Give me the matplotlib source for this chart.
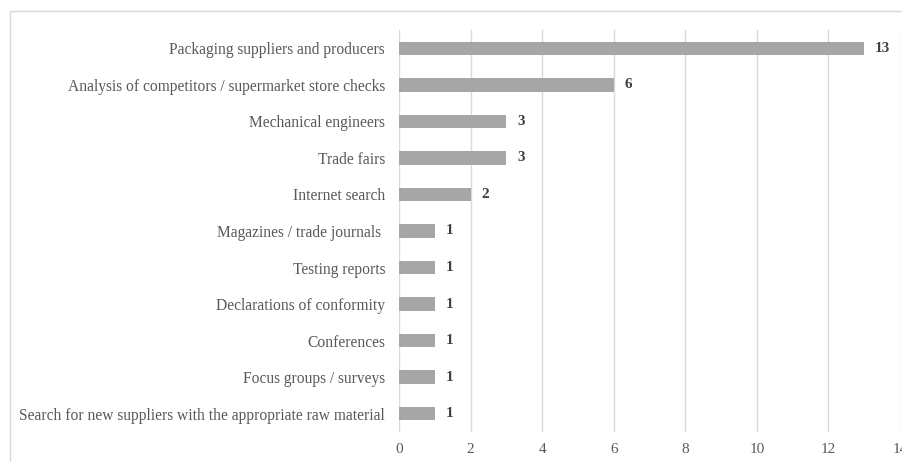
import matplotlib
matplotlib.use("Agg")
from matplotlib import pyplot as plt
from matplotlib.patches import Rectangle

categories = ["Packaging suppliers and producers",
              "Analysis of competitors / supermarket store checks",
              "Mechanical engineers",
              "Trade fairs",
              "Internet search",
              "Magazines / trade journals ",
              "Testing reports",
              "Declarations of conformity",
              "Conferences",
              "Focus groups / surveys",
              "Search for new suppliers with the appropriate raw material"]
counts = [13, 6, 3, 3, 2, 1, 1, 1, 1, 1, 1]
xticks = [0, 2, 4, 6, 8, 10, 12, 14]

plt.rcParams['font.family'] = ['Liberation Serif', 'DejaVu Serif']

fig = plt.figure(figsize=(9.03, 4.62), dpi=100)
# light frame around the chart area
fig.patches.append(Rectangle((10 / 903, -0.05), 1.1, 1 - 11 / 462 + 0.05,
                             transform=fig.transFigure, fill=False,
                             edgecolor='#d9d9d9', linewidth=1))

ax = fig.add_axes([399 / 903, 30 / 462, 501 / 903, 402 / 462])
y = list(range(len(categories)))
ax.barh(y, counts, height=0.37, color='#a6a6a6', zorder=2)
ax.set_ylim(len(categories) - 0.5, -0.5)
ax.set_xlim(0, 14)
ax.set_xticks(xticks)
ax.set_yticks(y)
ax.set_yticklabels(categories, fontsize=11.2, color='#595959')
ax.tick_params(axis='x', labelsize=11, labelcolor='#595959', length=0, pad=8)
ax.tick_params(axis='y', length=0, pad=10)
ax.grid(axis='x', color='#d9d9d9', linewidth=1, zorder=0)
for s in ax.spines.values():
    s.set_visible(False)

for yi, c in zip(y, counts):
    ax.text(c + 0.3, yi, str(c), va='center', ha='left', fontsize=11,
            fontweight='bold', color='#404040')

fig.savefig('out.png', dpi=100)
